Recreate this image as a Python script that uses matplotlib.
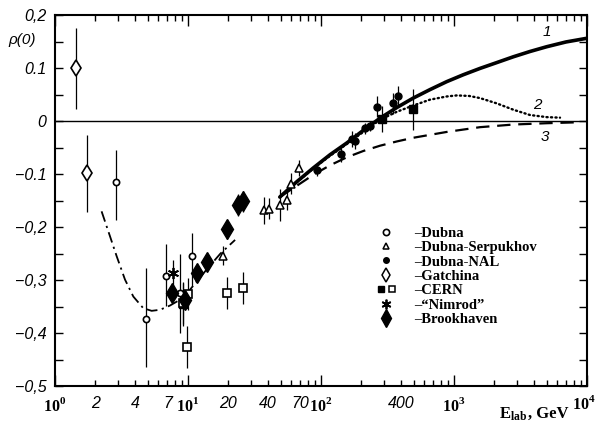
import matplotlib
matplotlib.use("Agg")
import matplotlib.pyplot as plt
from matplotlib.lines import Line2D
from matplotlib.legend_handler import HandlerTuple

plt.rcParams['font.family'] = ['Liberation Sans', 'DejaVu Sans']
plt.rcParams['mathtext.fontset'] = 'custom'
plt.rcParams['mathtext.rm'] = 'Liberation Serif:bold'
plt.rcParams['mathtext.bf'] = 'Liberation Serif:bold'
plt.rcParams['mathtext.it'] = 'Liberation Sans:italic'

# ---- experimental points: E_lab (GeV), rho(0), lower / upper errors ----
dubna_E = [2.87, 4.81, 6.8, 8.7, 10.8]
dubna_rho = [-0.115, -0.373, -0.293, -0.325, -0.254]
dubna_lo = [0.071, 0.092, 0.056, 0.075, 0.058]
dubna_hi = [0.061, 0.096, 0.062, 0.075, 0.044]

serp_E = [18.4, 37.3, 40.6, 49.4, 55.2, 59.2, 68.7]
serp_rho = [-0.254, -0.168, -0.165, -0.158, -0.148, -0.118, -0.088]
serp_err = [0.018, 0.025, 0.02, 0.03, 0.02, 0.02, 0.015]

nal_E = [92.8, 140.7, 170, 180, 214, 232, 262, 346, 377]
nal_rho = [-0.092, -0.061, -0.034, -0.037, -0.013, -0.009, 0.028, 0.034, 0.047]
nal_err = [0.012, 0.015, 0.015, 0.015, 0.01, 0.01, 0.02, 0.02, 0.02]

gatchina_E = [1.44, 1.75]
gatchina_rho = [0.10, -0.098]
gatchina_err = [0.077, 0.073]

cern_filled_E = [9.13, 286, 489]
cern_filled_rho = [-0.346, 0.004, 0.023]
cern_filled_err = [0.04, 0.025, 0.039]

cern_open_E = [9.2, 9.95, 9.8, 19.8, 25.8]
cern_open_rho = [-0.343, -0.326, -0.426, -0.324, -0.315]
cern_open_err = [0.04, 0.03, 0.04, 0.03, 0.03]

nimrod_E = [7.75]
nimrod_rho = [-0.286]
nimrod_err = [0.025]

bnl_E = [7.63, 9.5, 11.7, 14.0, 19.8, 23.6, 26.0]
bnl_rho = [-0.325, -0.337, -0.286, -0.265, -0.204, -0.158, -0.151]
bnl_err = [0.015, 0.018, 0.015, 0.015, 0.018, 0.02, 0.02]

# ---- theoretical curves ----
curve1_E = [49, 65.8, 87.5, 117, 156, 208, 278, 371, 494, 660, 881, 1173, 1567,
            2094, 2793, 3727, 4977, 6950, 10000]
curve1_rho = [-0.143, -0.114, -0.088, -0.063, -0.041, -0.017, 0.006, 0.026, 0.044,
              0.060, 0.075, 0.088, 0.100, 0.111, 0.122, 0.132, 0.141, 0.150, 0.157]

curve2_E = [49, 65.8, 87.5, 117, 156, 208, 278, 371, 494, 660, 881, 1048, 1300,
            1567, 2094, 2793, 3727, 4977, 6266]
curve2_rho = [-0.143, -0.115, -0.089, -0.065, -0.043, -0.020, 0.003, 0.018, 0.030,
              0.041, 0.047, 0.049, 0.048, 0.044, 0.034, 0.022, 0.012, 0.008, 0.007]

curve3_E = [49, 62, 87.5, 117, 156, 208, 278, 371, 494, 881, 1567, 2793, 4977, 8000]
curve3_rho = [-0.143, -0.126, -0.101, -0.083, -0.068, -0.056, -0.046, -0.038,
              -0.031, -0.020, -0.011, -0.006, -0.0035, -0.002]

lowE_E = [2.24, 2.59, 2.91, 3.36, 3.88, 4.61, 5.33, 6.16, 7.32, 8.71, 10.35, 13.8,
          17.5, 22.6]
lowE_rho = [-0.170, -0.217, -0.255, -0.299, -0.331, -0.353, -0.358, -0.356, -0.348,
            -0.337, -0.318, -0.280, -0.250, -0.224]

# ---- axis ticks ----
x_major = [1, 10, 100, 1000, 10000]
x_major_labels = [r'$\mathit{10}^{\mathit{0}}$', r'$\mathit{10}^{\mathit{1}}$',
                  r'$\mathit{10}^{\mathit{2}}$', r'$\mathit{10}^{\mathit{3}}$', '']
x_last_label = r'$\mathit{10}^{\mathit{4}}$'
x_named_minor = {2: '2', 4: '4', 7: '7', 20: '20', 40: '40', 70: '70', 400: '400'}
y_major = [0.2, 0.1, 0.0, -0.1, -0.2, -0.3, -0.4, -0.5]
y_major_labels = ['0,2', '0.1', '0', '\u22120.1', '\u22120,2', '\u22120,3',
                  '\u22120,4', '\u22120,5']

fig = plt.figure(figsize=(5.97, 4.24), dpi=100)
ax = fig.add_axes([55 / 597, 1 - 386 / 424, 532 / 597, 370.5 / 424])
ax.set_xscale('log')
ax.set_xlim(1, 1e4)
ax.set_ylim(-0.5, 0.2)

ax.axhline(0, color='black', lw=1.0, zorder=1)

# curves
ax.plot(curve1_E, curve1_rho, color='black', lw=2.6, solid_capstyle='round', zorder=2)
ax.plot(curve2_E, curve2_rho, color='black', lw=1.7, linestyle=(0, (0.5, 1.4)),
        dash_capstyle='round', zorder=2)
ax.plot(curve3_E, curve3_rho, color='black', lw=1.6, linestyle=(0, (6, 3.5)), zorder=2)
ax.plot(lowE_E, lowE_rho, color='black', lw=1.3, linestyle=(0, (6, 2.5, 1.2, 2.5)),
        zorder=2)

ax.text(5000, 0.168, '1', fontstyle='italic', fontsize=11, ha='center', va='center')
ax.text(4200, 0.030, '2', fontstyle='italic', fontsize=11, ha='center', va='center')
ax.text(4830, -0.030, '3', fontstyle='italic', fontsize=11, ha='center', va='center')

eb = dict(ecolor='black', elinewidth=0.9, capsize=0, linestyle='none', zorder=3)

ax.errorbar(dubna_E, dubna_rho, yerr=[dubna_lo, dubna_hi], marker='o', ms=4.5,
            mfc='white', mec='black', mew=1.2, **eb)
ax.errorbar(serp_E, serp_rho, yerr=serp_err, marker='^', ms=6, mfc='white',
            mec='black', mew=1.1, **eb)
ax.errorbar(nal_E, nal_rho, yerr=nal_err, marker='o', ms=5, mfc='black',
            mec='black', **eb)
ax.errorbar(gatchina_E, gatchina_rho, yerr=gatchina_err, marker='d', ms=8,
            mfc='white', mec='black', mew=1.2, **eb)
ax.errorbar(cern_filled_E, cern_filled_rho, yerr=cern_filled_err, marker='s', ms=6,
            mfc='black', mec='black', **eb)
ax.errorbar(cern_open_E, cern_open_rho, yerr=cern_open_err, marker='s', ms=6,
            mfc='white', mec='black', mew=1.2, **eb)
ax.errorbar(nimrod_E, nimrod_rho, yerr=nimrod_err, marker=(6, 2, 0), ms=8,
            mfc='black', mec='black', mew=1.3, **eb)
ax.errorbar(bnl_E, bnl_rho, yerr=bnl_err, marker='d', ms=10, mfc='black',
            mec='black', **eb)

# ticks
minor_pos = [m * 10 ** d for d in range(4) for m in range(2, 10)]
minor_lab = [x_named_minor.get(v, '') for v in minor_pos]
ax.set_xticks(x_major, labels=x_major_labels, fontsize=11.5)
ax.set_xticks(minor_pos, labels=minor_lab, minor=True, fontsize=11.5,
              fontstyle='italic')
ax.set_yticks(y_major, labels=y_major_labels, fontsize=11.5, fontstyle='italic')
ax.set_yticks([0.15, 0.05, -0.05, -0.15, -0.25, -0.35, -0.45], minor=True)
ax.tick_params(which='both', direction='in', top=True, right=True, width=1.0)
ax.tick_params(axis='x', which='major', length=8, pad=7)
ax.tick_params(axis='x', which='minor', length=4, pad=7)
ax.tick_params(axis='y', which='both', length=6, pad=6)
for s in ax.spines.values():
    s.set_linewidth(1.5)

# last decade label sits against the right edge of the figure
ax.annotate(x_last_label, xy=(1.0, 0.0), xycoords='axes fraction',
            xytext=(6, -6), textcoords='offset points', ha='right', va='top',
            fontsize=11.5)

fig.text(8 / 597, 1 - 40 / 424, '\u03c1(0)', fontstyle='italic', fontsize=11,
         ha='left', va='center')
fig.text(527 / 597, 1 - 414 / 424, r'$\mathrm{E}_{\mathrm{lab}}$', fontsize=12,
         ha='right', va='center')
fig.text(528 / 597, 1 - 414 / 424, ', GeV', fontsize=12, family='Liberation Serif',
         fontweight='bold', ha='left', va='center')

# legend
h_dubna = Line2D([], [], ls='none', marker='o', ms=4.5, mfc='white', mec='black',
                 mew=1.2)
h_serp = Line2D([], [], ls='none', marker='^', ms=5, mfc='white', mec='black', mew=1.1)
h_nal = Line2D([], [], ls='none', marker='o', ms=4, mfc='black', mec='black')
h_gat = Line2D([], [], ls='none', marker='d', ms=7, mfc='white', mec='black', mew=1.1)
h_cf = Line2D([], [], ls='none', marker='s', ms=5, mfc='black', mec='black')
h_co = Line2D([], [], ls='none', marker='s', ms=5, mfc='white', mec='black', mew=1.1)
h_nim = Line2D([], [], ls='none', marker=(6, 2, 0), ms=7, mec='black', mew=1.3)
h_bnl = Line2D([], [], ls='none', marker='d', ms=9, mfc='black', mec='black')
handles = [h_dubna, h_serp, h_nal, h_gat, (h_cf, h_co), h_nim, h_bnl]
labels = ['\u2013Dubna', '\u2013Dubna-Serpukhov', '\u2013Dubna-NAL', '\u2013Gatchina',
          '\u2013CERN', '\u2013\u201cNimrod\u201d', '\u2013Brookhaven']
ax.legend(handles, labels, loc='upper left', bbox_to_anchor=(0.59, 0.45),
          frameon=False, prop=dict(family='Liberation Serif', weight='bold', size=10.5),
          handlelength=1.4, handletextpad=1.2, labelspacing=0.08, borderpad=0,
          handler_map={tuple: HandlerTuple(ndivide=None, pad=0.2)})

fig.savefig('out.png', dpi=100)
